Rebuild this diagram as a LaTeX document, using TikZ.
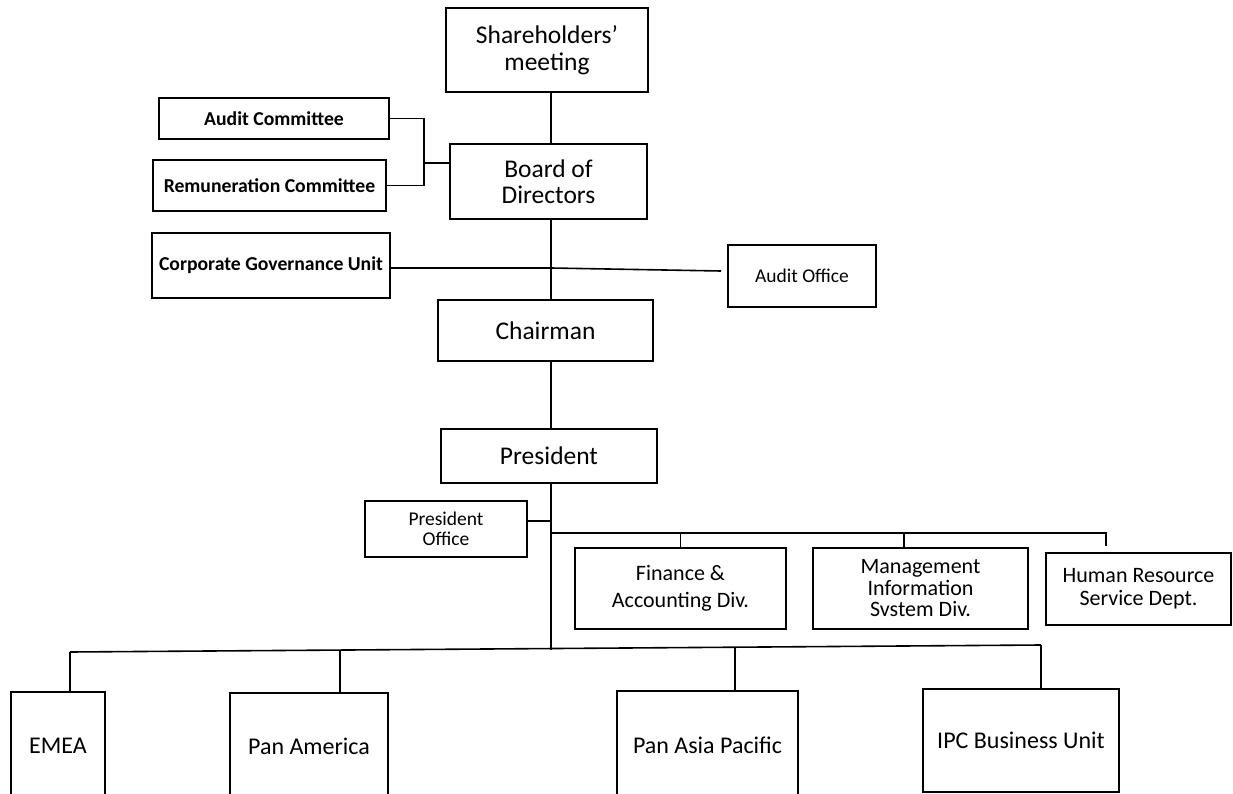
\documentclass[tikz,border=0pt]{standalone}
\usepackage{fontspec}
\setmainfont{Carlito}
\begin{document}
\begin{tikzpicture}[x=1pt,y=-1pt]
\tikzset{
  box/.style={draw, line width=1.6pt, rectangle, inner sep=0pt, align=center, text=black},
  conn/.style={line width=1.6pt},
  fmain/.style={font=\fontsize{25.5}{26.5}\selectfont},
  fbold/.style={font=\fontsize{19.7}{22}\selectfont\bfseries},
  fsmall/.style={font=\fontsize{19.5}{20.5}\selectfont},
  fdiv/.style={font=\fontsize{22}{23}\selectfont},
  fbot/.style={font=\fontsize{24}{26}\selectfont},
}
\useasboundingbox (0,0) rectangle (1233,794);
\clip (0,0) rectangle (1233,794);
\fill[white] (0,0) rectangle (1233,794);

% top levels
\node[box,fmain,minimum width=202,minimum height=84] (sh) at (547,50) {Shareholders’\\meeting};
\node[box,fmain,minimum width=197,minimum height=75] (bd) at (548.5,181.5) {Board of\\Directors};
\node[box,fbold,minimum width=230,minimum height=41] (ac) at (274,118.5) {Audit Committee};
\node[box,fbold,minimum width=233,minimum height=51] (rc) at (269.5,185.5) {Remuneration Committee};
\node[box,fbold,minimum width=238,minimum height=65] (cgu) at (271,265.5) {Corporate Governance Unit};
\node[box,fsmall,minimum width=148,minimum height=62] (ao) at (802,276) {Audit Office};
\node[box,fmain,minimum width=215,minimum height=61] (ch) at (545.5,330.5) {Chairman};
\node[box,fmain,minimum width=216,minimum height=54] (pr) at (549,456) {President};
\node[box,fsmall,minimum width=162,minimum height=56] (po) at (446,529) {President\\Office};

% divisions
\node[box,fdiv,minimum width=211,minimum height=81] (fin) at (680.5,588.5) {Finance \&\\[4pt]Accounting Div.};
\node[box,fdiv,minimum width=215,minimum height=81,font=\fontsize{22}{21.5}\selectfont] (mis) at (920.5,588.5) {Management\\Information\\Svstem Div.};
\node[box,fdiv,minimum width=185,minimum height=72] (hr) at (1138.5,589) {Human Resource\\Service Dept.};

% regions
\node[box,fbot,minimum width=94,minimum height=108] (emea) at (58,746) {EMEA};
\node[box,fbot,minimum width=158,minimum height=107] (pam) at (309,746.5) {Pan America};
\node[box,fbot,minimum width=181,minimum height=109] (pap) at (707.5,745.5) {Pan Asia Pacific};
\node[box,fbot,minimum width=196,minimum height=103] (ipc) at (1021,740.5) {IPC Business Unit};

% connectors
\coordinate (sp) at (551,0);
\draw[conn] (sh.south -| sp) -- (bd.north -| sp);
\coordinate (brk) at (424,163);
\draw[conn] (ac.east) -- (ac.east -| brk) -- (rc.east -| brk) -- (rc.east);
\draw[conn] (brk) -- (bd.west |- brk);
\draw[conn] (bd.south -| sp) -- (ch.north -| sp);
\coordinate (cj) at (551,268);
\coordinate (aoj) at (721,271);
\draw[conn] (cgu.east |- cj) -- (cj);
\draw[conn] (cj) -- (aoj);
\draw[conn] (ch.south -| sp) -- (pr.north -| sp);
\coordinate (bot) at (551,650);
\draw[conn] (pr.south -| sp) -- (bot);
\coordinate (poj) at (551,521);
\draw[conn] (poj) -- (poj -| po.east);
\coordinate (ub) at (551,533);
\coordinate (hrd) at (1106,546);
\draw[conn] (ub) -- (ub -| hrd) -- (hrd);
\draw[conn] (ub -| fin.north) -- (fin.north);
\coordinate (misx) at (904,0);
\draw[conn] (ub -| misx) -- (mis.north -| misx);

\coordinate (b1) at (70,652);
\coordinate (b2) at (340,650);
\coordinate (b3) at (735,647);
\coordinate (b4) at (1041,645);
\draw[conn] (b1) -- (b4);
\draw[conn] (b1) -- (emea.north -| b1);
\draw[conn] (b2) -- (pam.north -| b2);
\draw[conn] (b3) -- (pap.north -| b3);
\draw[conn] (b4) -- (ipc.north -| b4);
\end{tikzpicture}
\end{document}
